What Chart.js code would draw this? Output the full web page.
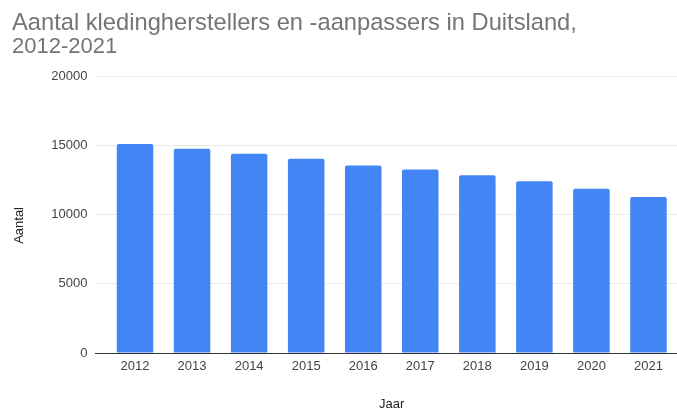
<!DOCTYPE html>
<html>
<head>
<meta charset="utf-8">
<script src="https://cdn.jsdelivr.net/npm/chart.js@4"></script>
<style>
html, body { margin: 0; padding: 0; background: #ffffff; }
canvas { display: block; }
</style>
</head>
<body>
<canvas id="c" width="677" height="408"></canvas>
<script>
const titleLine1 = "Aantal kledingherstellers en -aanpassers in Duitsland,";
const titleLine2 = "2012-2021";
const years = ["2012", "2013", "2014", "2015", "2016", "2017", "2018", "2019", "2020", "2021"];
const counts = [15110, 14750, 14390, 14030, 13540, 13250, 12850, 12410, 11860, 11280];
const yTicks = [0, 5000, 10000, 15000, 20000];
const xTitle = "Jaar";
const yTitle = "Aantal";

const FONT = "'Liberation Sans', Arial, sans-serif";

new Chart(document.getElementById('c'), {
  type: 'bar',
  data: {
    labels: years,
    datasets: [{
      data: counts,
      backgroundColor: '#4285F4',
      borderWidth: 0,
      borderRadius: { topLeft: 2, topRight: 2, bottomLeft: 0, bottomRight: 0 },
      borderSkipped: 'bottom',
      barPercentage: 0.64,
      categoryPercentage: 1.0
    }]
  },
  options: {
    responsive: false,
    animation: false,
    layout: { padding: { left: 12, right: 0, top: 0, bottom: 0 } },
    plugins: {
      legend: { display: false },
      tooltip: { enabled: false },
      title: {
        display: true,
        text: titleLine1,
        align: 'start',
        color: '#757575',
        font: { family: FONT, size: 23.7, weight: 'normal', lineHeight: 1.0127 },
        padding: { top: 11, bottom: 0 }
      },
      subtitle: {
        display: true,
        text: titleLine2,
        align: 'start',
        color: '#757575',
        font: { family: FONT, size: 22, weight: 'normal', lineHeight: 1.1 },
        padding: { top: 0, bottom: 17 }
      }
    },
    scales: {
      x: {
        grid: { display: false, drawTicks: false },
        border: { display: false },
        ticks: { color: '#444444', font: { family: FONT, size: 13 }, padding: 6, maxRotation: 0 },
        title: { display: true, text: xTitle, color: '#222222', font: { family: FONT, size: 13, lineHeight: 1.2 }, padding: { top: 0, bottom: -4 } },
        afterFit: (s) => { s.height = 55; }
      },
      y: {
        min: yTicks[0],
        max: yTicks[yTicks.length - 1],
        afterBuildTicks: (s) => { s.ticks = yTicks.map(v => ({ value: v })); },
        grid: {
          color: (ctx) => (ctx.tick && ctx.tick.value === 0 ? '#333333' : '#ebebeb'),
          tickColor: (ctx) => (ctx.tick && ctx.tick.value === 0 ? '#333333' : '#ebebeb'),
          lineWidth: 1,
          drawTicks: true,
          tickLength: 11.5
        },
        border: { display: false },
        ticks: { color: '#444444', font: { family: FONT, size: 13 }, padding: 7.5, callback: (v) => String(v) },
        title: { display: true, text: yTitle + "\u00a0\u00a0\u00a0\u00a0\u00a0\u00a0", color: '#222222', font: { family: FONT, size: 13, lineHeight: 1.2 }, padding: { top: 0, bottom: 0 } },
        afterFit: (s) => { s.width = 94.5; }
      }
    }
  }
});
</script>
</body>
</html>
